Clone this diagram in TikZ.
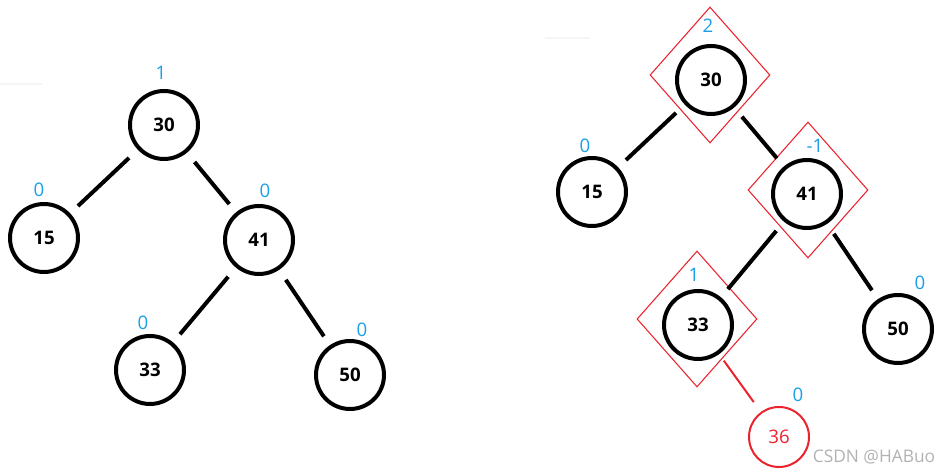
\documentclass[tikz,border=0pt]{standalone}
\usepackage{fontspec}
\setmainfont{Open Sans}
\usetikzlibrary{shapes.geometric}
\definecolor{balblue}{RGB}{25,160,230}
\definecolor{avlred}{RGB}{235,35,45}

\begin{document}
\begin{tikzpicture}[x=0.75pt,y=-0.75pt,
  key/.style={circle,draw,line width=3pt,minimum size=51pt,inner sep=0pt,font=\fontsize{14}{16}\selectfont\bfseries},
  newkey/.style={circle,draw=avlred,line width=1.5pt,minimum size=45pt,inner sep=0pt,text=avlred,font=\fontsize{14}{16}\selectfont},
  bal/.style={text=balblue,font=\fontsize{14}{16}\selectfont},
  edge/.style={line width=3pt,shorten <=9pt,shorten >=8pt},
  unbal/.style={diamond,draw=avlred,line width=0.8pt,inner sep=0pt,minimum width=90pt,minimum height=102pt}]
  \useasboundingbox (0,0) rectangle (936,473);
  % faint scan lines
  \draw[black!4,line width=1pt] (0,84)--(42,84);
  \draw[black!4,line width=1pt] (545,38)--(590,38);
  % left tree
  \foreach \n/\x/\y/\t in {a30/164/125/30, a15/44/238/15, a41/259/240/41, a33/150/370/33, a50/350/375/50}
    {\node[key] (\n) at (\x,\y) {\t};}
  \foreach \n/\x/\y/\t in {ba30/161/73/1, ba15/39/190/0, ba41/265/191/0, ba33/143/323/0, ba50/362/330/0}
    {\node[bal] (\n) at (\x,\y) {\t};}
  \draw[edge] (a30)--(a15); \draw[edge] (a30)--(a41);
  \draw[edge] (a41)--(a33); \draw[edge] (a41)--(a50);
  % right tree after inserting 36
  \foreach \n/\x/\y in {d30/710/75, d41/808/190, d33/697/319}
    {\node[unbal] (\n) at (\x,\y) {};}
  \foreach \n/\x/\y/\t in {b30/711/80/30, b15/592/192/15, b41/807/194/41, b33/698/325/33, b50/898/329/50}
    {\node[key] (\n) at (\x,\y) {\t};}
  \node[newkey] (b36) at (779,437) {36};
  \foreach \n/\x/\y/\t in {bb30/708/26/2, bb15/585/146/0, bb41/815/146/-1, bb33/694/275/1, bb50/920/283/0, bb36/798/395/0}
    {\node[bal] (\n) at (\x,\y) {\t};}
  \draw[edge] (b30)--(b15); \draw[edge] (b30)--(b41);
  \draw[edge] (b41)--(b33); \draw[edge] (b41)--(b50);
  \draw[avlred,line width=1.5pt,shorten <=6pt,shorten >=9pt] (b33)--(b36);
  % watermark
  \node[text=black!30,font=\fontsize{13}{15}\selectfont] (mark) at (874,457) {CSDN @HABuo};
\end{tikzpicture}
\end{document}
